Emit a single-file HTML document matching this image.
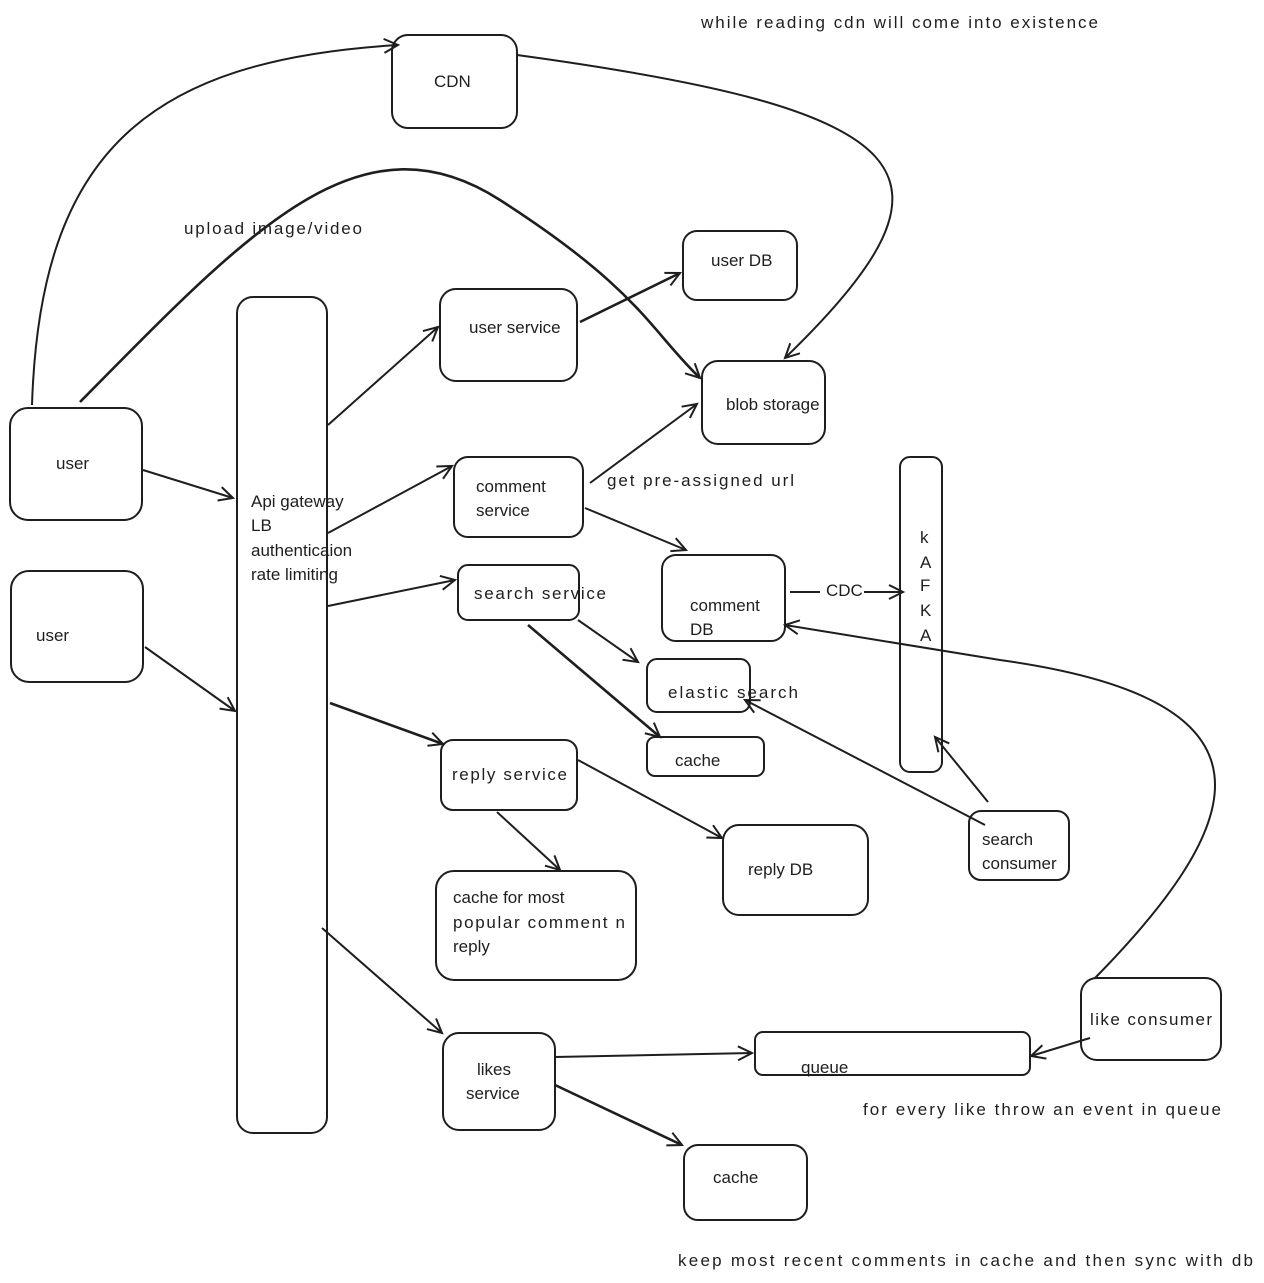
<!DOCTYPE html>
<html><head><meta charset="utf-8"><style>
html,body{margin:0;padding:0;background:#fff;}
svg{display:block;}
text{font-family:"Liberation Sans",sans-serif;font-size:17px;fill:#1e1e1e;}
</style></head><body>
<svg width="1264" height="1283" viewBox="0 0 1264 1283" xmlns="http://www.w3.org/2000/svg">
<defs>
<marker id="a" markerWidth="20" markerHeight="20" refX="16" refY="8" orient="auto" markerUnits="userSpaceOnUse">
<path d="M2 1 L16 8 L2 15" fill="none" stroke="#1e1e1e" stroke-width="2"/>
</marker>
</defs>
<g fill="none" stroke="#1e1e1e" stroke-width="2">
<rect x="392" y="35" width="125" height="93" rx="16"/>
<rect x="683" y="231" width="114" height="69" rx="14"/>
<rect x="440" y="289" width="137" height="92" rx="16"/>
<rect x="702" y="361" width="123" height="83" rx="16"/>
<rect x="237" y="297" width="90" height="836" rx="16"/>
<rect x="10" y="408" width="132" height="112" rx="18"/>
<rect x="11" y="571" width="132" height="111" rx="18"/>
<rect x="454" y="457" width="129" height="80" rx="14"/>
<rect x="900" y="457" width="42" height="315" rx="10"/>
<rect x="662" y="555" width="123" height="86" rx="14"/>
<rect x="458" y="565" width="121" height="55" rx="10"/>
<rect x="647" y="659" width="103" height="53" rx="10"/>
<rect x="647" y="737" width="117" height="39" rx="8"/>
<rect x="441" y="740" width="136" height="70" rx="12"/>
<rect x="723" y="825" width="145" height="90" rx="16"/>
<rect x="969" y="811" width="100" height="69" rx="12"/>
<rect x="436" y="871" width="200" height="109" rx="18"/>
<rect x="1081" y="978" width="140" height="82" rx="16"/>
<rect x="755" y="1032" width="275" height="43" rx="8"/>
<rect x="443" y="1033" width="112" height="97" rx="16"/>
<rect x="684" y="1145" width="123" height="75" rx="14"/>

<path d="M32 405 C 40 150, 150 60, 398 45" marker-end="url(#a)"/>
<path d="M80 402 C 250 230, 360 110, 500 200 S 650 330, 700 378" marker-end="url(#a)" stroke-width="2.6"/>
<path d="M517 55 C 920 110, 980 170, 785 358" marker-end="url(#a)"/>
<path d="M143 470 L233 498" marker-end="url(#a)"/>
<path d="M145 647 L235 711" marker-end="url(#a)"/>
<path d="M328 425 L438 327" marker-end="url(#a)"/>
<path d="M580 322 L680 273" marker-end="url(#a)" stroke-width="2.6"/>
<path d="M328 533 L452 466" marker-end="url(#a)"/>
<path d="M590 483 L697 404" marker-end="url(#a)"/>
<path d="M585 508 L686 550" marker-end="url(#a)"/>
<path d="M328 606 L455 580" marker-end="url(#a)"/>
<path d="M578 620 L638 662" marker-end="url(#a)"/>
<path d="M528 625 L660 737" marker-end="url(#a)" stroke-width="2.6"/>
<path d="M790 592 L903 592" marker-end="url(#a)"/>
<path d="M1095 978 C 1250 820, 1290 700, 1000 660 L 785 625" marker-end="url(#a)"/>
<path d="M985 825 L745 700" marker-end="url(#a)"/>
<path d="M988 802 L935 737" marker-end="url(#a)"/>
<path d="M330 703 L443 744" marker-end="url(#a)" stroke-width="2.6"/>
<path d="M497 812 L560 870" marker-end="url(#a)"/>
<path d="M578 760 L722 838" marker-end="url(#a)"/>
<path d="M322 928 L442 1033" marker-end="url(#a)"/>
<path d="M555 1057 L752 1053" marker-end="url(#a)"/>
<path d="M1090 1038 L1031 1056" marker-end="url(#a)"/>
<path d="M555 1085 L682 1145" marker-end="url(#a)" stroke-width="2.6"/>
</g>
<rect x="820" y="580" width="44" height="20" fill="#fff"/>
<text x="701" y="28" textLength="397">while reading cdn will come into existence</text>
<text x="434" y="87">CDN</text>
<text x="184" y="234" textLength="178">upload image/video</text>
<text x="711" y="266">user DB</text>
<text x="469" y="333">user service</text>
<text x="726" y="410">blob storage</text>
<text x="56" y="469">user</text>
<text x="36" y="641">user</text>
<text x="251" y="507">Api gateway</text>
<text x="251" y="531">LB</text>
<text x="251" y="556">authenticaion</text>
<text x="251" y="580">rate limiting</text>
<text x="476" y="492">comment</text>
<text x="476" y="516">service</text>
<text x="607" y="486" textLength="187">get pre-assigned url</text>
<text x="920" y="543">k</text>
<text x="920" y="568">A</text>
<text x="920" y="591">F</text>
<text x="920" y="616">K</text>
<text x="920" y="641">A</text>
<text x="826" y="596">CDC</text>
<text x="690" y="611">comment</text>
<text x="690" y="635">DB</text>
<text x="474" y="599" textLength="132">search service</text>
<text x="668" y="698" textLength="130">elastic search</text>
<text x="675" y="766">cache</text>
<text x="452" y="780" textLength="115">reply service</text>
<text x="748" y="875">reply DB</text>
<text x="982" y="845">search</text>
<text x="982" y="869">consumer</text>
<text x="453" y="903">cache for most</text>
<text x="453" y="928" textLength="172">popular comment n</text>
<text x="453" y="952">reply</text>
<text x="1090" y="1025" textLength="122">like consumer</text>
<text x="801" y="1073">queue</text>
<text x="477" y="1075">likes</text>
<text x="466" y="1099">service</text>
<text x="863" y="1115" textLength="358">for every like throw an event in queue</text>
<text x="713" y="1183">cache</text>
<text x="678" y="1266" textLength="575">keep most recent comments in cache and then sync with db</text>
</svg>
</body></html>
